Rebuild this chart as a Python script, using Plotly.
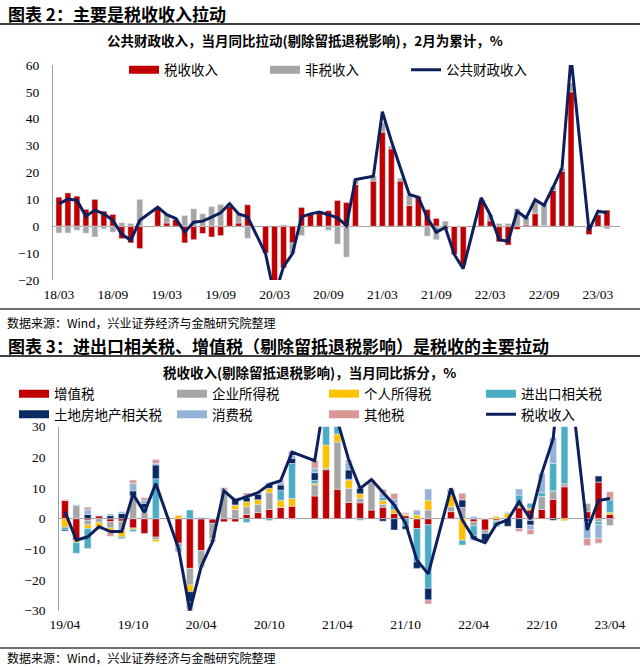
import plotly.graph_objects as go

# ---------------- data: chart 1 (公共财政收入拉动) ----------------
months1 = ["18/03","18/04","18/05","18/06","18/07","18/08","18/09","18/10","18/11","18/12",
           "19/01","19/02","19/03","19/04","19/05","19/06","19/07","19/08","19/09","19/10","19/11","19/12",
           "20/01","20/02","20/03","20/04","20/05","20/06","20/07","20/08","20/09","20/10","20/11","20/12",
           "21/01","21/02","21/03","21/04","21/05","21/06","21/07","21/08","21/09","21/10","21/11","21/12",
           "22/01","22/02","22/03","22/04","22/05","22/06","22/07","22/08","22/09","22/10","22/11","22/12",
           "23/01","23/02","23/03","23/04"]
tax1 = [10.8,12.4,11.2,6.3,10,5.6,4.4,-4.6,-6.2,-8.3,
        None,7,1.2,2.5,-6.2,-5,-2.7,-4,-3.5,7.4,1.2,8,
        None,-10,-25,-15.5,-6.2,7,4.5,5,5.8,9.6,8.8,15.5,
        None,16.8,35,28.8,16.8,7.7,11.2,6.2,2.9,-1,-10.5,-14.3,
        None,9.3,2,-5.8,-7,-1.2,0.5,4.7,0.3,13.3,20.5,50,
        None,-3.1,4.3,6]
nontax1 = [-2.5,-2.5,-1.5,-2.6,-4,-1,-2.2,1.3,1,10,
           None,0.1,3.1,0.6,4,6.5,4.6,7.3,8.1,1,3.4,-4.5,
           None,-0.2,-1,0.5,-4,-3.5,0.1,0.3,-1.5,-6.6,-11.5,1.9,
           None,1.8,3.5,1,1,4,0,-3.7,-5,1.9,0,0,
           None,0.5,2.3,1,1,6.5,3,4.6,8,1.5,1,3.3,
           None,0,0.5,-1]
total1 = [8.3,10.1,9.7,3.7,6,4.6,2.2,-3,-5.2,2.2,
          None,7.1,4.3,2.9,-2.2,1.5,1.9,3.4,5,8.4,4.6,3.5,
          None,-10.2,-26,-15,-10.2,3.5,4.6,5.3,4.3,3.1,0.2,17.4,
          None,18.6,42.6,31.7,21.7,11.8,10.8,3.1,-2.2,-0.4,-10.5,-15.8,
          None,10.6,4.3,-5,-5.6,5.6,3.1,9.9,7.8,14.5,21.7,63,
          None,-1.5,5.6,5]
ticks1 = ["18/03","18/09","19/03","19/09","20/03","20/09","21/03","21/09","22/03","22/09","23/03"]

# ---------------- data: chart 2 (税收收入拆分) ----------------
months2 = ["19/04","19/05","19/06","19/07","19/08","19/09","19/10","19/11","19/12",
           "20/01","20/02","20/03","20/04","20/05","20/06","20/07","20/08","20/09","20/10","20/11","20/12",
           "21/01","21/02","21/03","21/04","21/05","21/06","21/07","21/08","21/09","21/10","21/11","21/12",
           "22/01","22/02","22/03","22/04","22/05","22/06","22/07","22/08","22/09","22/10","22/11","22/12",
           "23/01","23/02","23/03","23/04"]
vat = [6,-7,-0.5,1,-1,-0.8,-3,-4.8,-6,
       None,-8,-16.2,-10.4,-1.5,-1,-1,1.4,2,3,3.7,4.1,
       None,7.4,16,9.6,5.3,5.2,2.8,3.7,1.7,1,-3.2,-2,
       None,2.3,0,-1,-3.7,-0.5,0.2,3.6,2.8,3,6.3,10.4,
       None,2.3,12,1.4]
corp = [0,4.5,-1.5,-1.2,-2,-3,7.5,2,-0.8,
        None,-1.5,-5.4,-4.5,-5,8,3,2.5,2.6,5.5,0,-0.3,
        None,3.6,0.5,15.4,4.6,1.5,9,1,0,0,0,2.8,
        None,1.6,3.7,-1.4,-1.1,-0.6,0,0,-0.6,4.2,2.8,1,
        None,2.7,-1,-2.2]
indiv = [-2.8,-0.8,-1.2,-2.2,-1.5,-2.2,-0.5,0,-0.7,
         None,1.2,-2.2,0,-0.5,0.5,1.5,1.6,1.6,1.4,2.3,2.5,
         None,0.5,7.5,2.6,2.7,1.4,0.5,1.3,1.2,0.5,1.2,3.2,
         None,3.8,-7,0,0,0.8,1.5,0.6,0.7,0,0,-0.7,
         None,0,0,0.6]
impexp = [-0.8,-3.5,-6.5,0,0,-0.5,-0.7,1.5,13,
          None,-1,2.8,-0.5,-0.5,0,0,-1.2,0,-0.6,3.3,11.4,
          None,1,12,3,0.3,-0.5,0,1,2,-2.4,-10.8,-20.7,
          None,1,-1.6,-3.2,0,-1.5,0.4,3.5,1.5,1.3,8.9,45,
          None,0,-1,4.1]
land = [-0.4,0,1.4,0,1,1.7,1.6,1.5,4.5,
        None,0,-3.2,0.3,0,0,2,1.5,1.8,1.6,1.7,1.7,
        None,2.5,2.5,0.8,3,1.8,0.3,-0.8,-3.7,-1,-2.2,-3.8,
        None,0.5,2.5,-1,-2.5,0,-2.5,-3.2,-1.5,0,-0.5,0,
        None,-1,1.9,0.3]
consum = [0,0,1.5,0,0.5,0.6,2.5,1,0.5,
          None,0,-2.5,0,0,1,0.4,0.5,0.5,0.3,0.8,1,
          None,1.5,1.5,0.3,2.5,0.5,0.2,1.4,1.5,0,1.6,3.7,
          None,0.4,0,0.7,0,0,0,2,-1.5,6.3,8.5,4,
          None,-5.5,-4.4,0]
other = [0.3,0,0.8,-0.2,-1.2,0,1,0.8,1.3,
         None,-0.4,-3.3,-0.5,0,0.6,0,0.9,0,0,0.6,1.3,
         None,2.4,2,0.3,0.7,0,0,1.2,1.8,0.4,0,-1.3,
         None,0.3,2.1,-0.5,-0.5,0,0,-1,-1.5,0,0,2.3,
         None,-2.2,-1.6,2.4]
taxtotal = [2.3,-7,-5.9,-2.6,-4.2,-4.2,8,2,11.5,
            None,-9.7,-30,-15.6,-7.5,9.1,5.9,7.2,8.5,11.2,12.4,21.7,
            None,18.9,42,32,19.1,9.9,12.8,8.8,4.5,-1.5,-13.5,-18,
            None,9.9,-0.4,-6.4,-7.8,-1.8,-0.4,5.5,-0.1,14.8,26,62,
            None,-3.7,5.9,6.6]
ticks2 = ["19/04","19/10","20/04","20/10","21/04","21/10","22/04","22/10","23/04"]

RED = "#C00000"
GRAY = "#A6A6A6"
YEL = "#FFC000"
TEAL = "#4BACC6"
DNAVY = "#0B2A63"
LBLUE = "#95B3D7"
PINK = "#D99694"
NAVY = "#0D1F5C"

CJK = "Noto Sans CJK SC"
SERIF = "Liberation Serif"
H = 667.0

def py(px):
    return 1 - px / H

fig = go.Figure()

# ---- chart 1 ----
fig.add_trace(go.Bar(x=months1, y=tax1, marker_color=RED, width=0.66, showlegend=False,
                     xaxis="x", yaxis="y"))
fig.add_trace(go.Bar(x=months1, y=nontax1, marker_color=GRAY, width=0.66, showlegend=False,
                     xaxis="x", yaxis="y"))
fig.add_trace(go.Scatter(x=[None], y=[None], mode="lines", line=dict(color=RED, width=8),
                         name="税收收入", legend="legend", xaxis="x", yaxis="y"))
fig.add_trace(go.Scatter(x=[None], y=[None], mode="lines", line=dict(color=GRAY, width=8),
                         name="非税收入", legend="legend", xaxis="x", yaxis="y"))
fig.add_trace(go.Scatter(x=months1, y=total1, mode="lines", connectgaps=True,
                         line=dict(color=NAVY, width=3), name="公共财政收入",
                         legend="legend", xaxis="x", yaxis="y"))

# ---- chart 2 ----
comps = [("增值税", vat, RED), ("企业所得税", corp, GRAY), ("个人所得税", indiv, YEL),
         ("进出口相关税", impexp, TEAL), ("土地房地产相关税", land, DNAVY),
         ("消费税", consum, LBLUE), ("其他税", other, PINK)]
for name, vals, col in comps:
    fig.add_trace(go.Bar(x=months2, y=vals, marker_color=col, width=0.6, showlegend=False,
                         xaxis="x2", yaxis="y2"))
# legend columns: (column legend id) for each entry
legcol = ["legend2", "legend3", "legend4", "legend5", "legend2", "legend3", "legend4"]
for (name, vals, col), lg in zip(comps, legcol):
    fig.add_trace(go.Scatter(x=[None], y=[None], mode="lines", line=dict(color=col, width=8),
                             name=name, legend=lg, xaxis="x2", yaxis="y2"))
fig.add_trace(go.Scatter(x=months2, y=taxtotal, mode="lines", connectgaps=True,
                         line=dict(color=NAVY, width=3), name="税收收入",
                         legend="legend5", xaxis="x2", yaxis="y2"))

tickfont = dict(family=SERIF, size=13.5, color="#000000")
xcommon = dict(type="category", showgrid=False, showline=False, ticks="", automargin=False,
               tickmode="array", tickfont=tickfont, zeroline=False, ticklabelstandoff=4)
ycommon = dict(showgrid=False, showline=True, linecolor="#A0A0A0", linewidth=1, automargin=False,
               zeroline=True, zerolinecolor="#A0A0A0", zerolinewidth=1,
               ticks="", tickfont=tickfont, dtick=10, ticklabelstandoff=10)

legfont = dict(family=CJK, size=13.5, color="#000000")
def vleg(xpx):
    return dict(orientation="v", x=xpx/640, y=py(404.5), xanchor="left", yanchor="middle",
                itemwidth=30, font=legfont, bgcolor="rgba(0,0,0,0)", borderwidth=0,
                tracegroupgap=0)

fig.update_layout(
    width=640, height=667,
    margin=dict(l=0, r=0, t=0, b=0, autoexpand=False),
    paper_bgcolor="white", plot_bgcolor="white",
    barmode="relative",
    hovermode=False,
    xaxis=dict(xcommon, domain=[53/640, 620/640], anchor="y",
               categoryorder="array", categoryarray=months1,
               range=[-0.66, 62.45], tickvals=ticks1),
    yaxis=dict(ycommon, domain=[py(280), py(65)], anchor="x", range=[-20, 60]),
    xaxis2=dict(xcommon, domain=[59.3/640, 615/640], anchor="y2",
                categoryorder="array", categoryarray=months2,
                range=[-0.5, 48.45], tickvals=ticks2),
    yaxis2=dict(ycommon, domain=[py(610.7), py(426.7)], anchor="x2", range=[-30, 30]),
    legend=dict(orientation="h", x=124/640, y=py(70), xanchor="left", yanchor="middle",
                entrywidth=96, entrywidthmode="pixels", itemwidth=30,
                font=legfont, bgcolor="rgba(0,0,0,0)", borderwidth=0),
    legend2=vleg(14),
    legend3=vleg(172),
    legend4=vleg(324),
    legend5=vleg(481),
    showlegend=True,
)

ann = [
    dict(text="<b>图表 2：主要是税收收入拉动</b>", x=6/640, y=py(13), xanchor="left",
         font=dict(family=CJK, size=17, color="#000000")),
    dict(text="<b>公共财政收入，当月同比拉动(剔除留抵退税影响)，2月为累计，%</b>", x=305/640, y=py(40),
         xanchor="center", font=dict(family=CJK, size=13.5, color="#000000")),
    dict(text="数据来源：Wind，兴业证券经济与金融研究院整理", x=5/640, y=py(322), xanchor="left",
         font=dict(family=CJK, size=12, color="#000000")),
    dict(text="<b>图表 3：进出口相关税、增值税（剔除留抵退税影响）是税收的主要拉动</b>", x=6/640, y=py(345),
         xanchor="left", font=dict(family=CJK, size=17, color="#000000")),
    dict(text="<b>税收收入(剔除留抵退税影响)，当月同比拆分，%</b>", x=309/640, y=py(372),
         xanchor="center", font=dict(family=CJK, size=13.5, color="#000000")),
    dict(text="数据来源：Wind，兴业证券经济与金融研究院整理", x=5/640, y=py(657), xanchor="left",
         font=dict(family=CJK, size=12, color="#000000")),
]
for a in ann:
    fig.add_annotation(xref="paper", yref="paper", yanchor="middle", showarrow=False, **a)

for ypx, w in [(24, 2), (309, 1.5), (356, 2), (648, 1.5)]:
    fig.add_shape(type="line", xref="paper", yref="paper", x0=0, x1=1, y0=py(ypx), y1=py(ypx),
                  line=dict(color="#404040", width=w))

fig.write_html("out.html", config={"displayModeBar": False},
               post_script="document.body.style.margin='0';document.body.style.overflow='hidden';")
